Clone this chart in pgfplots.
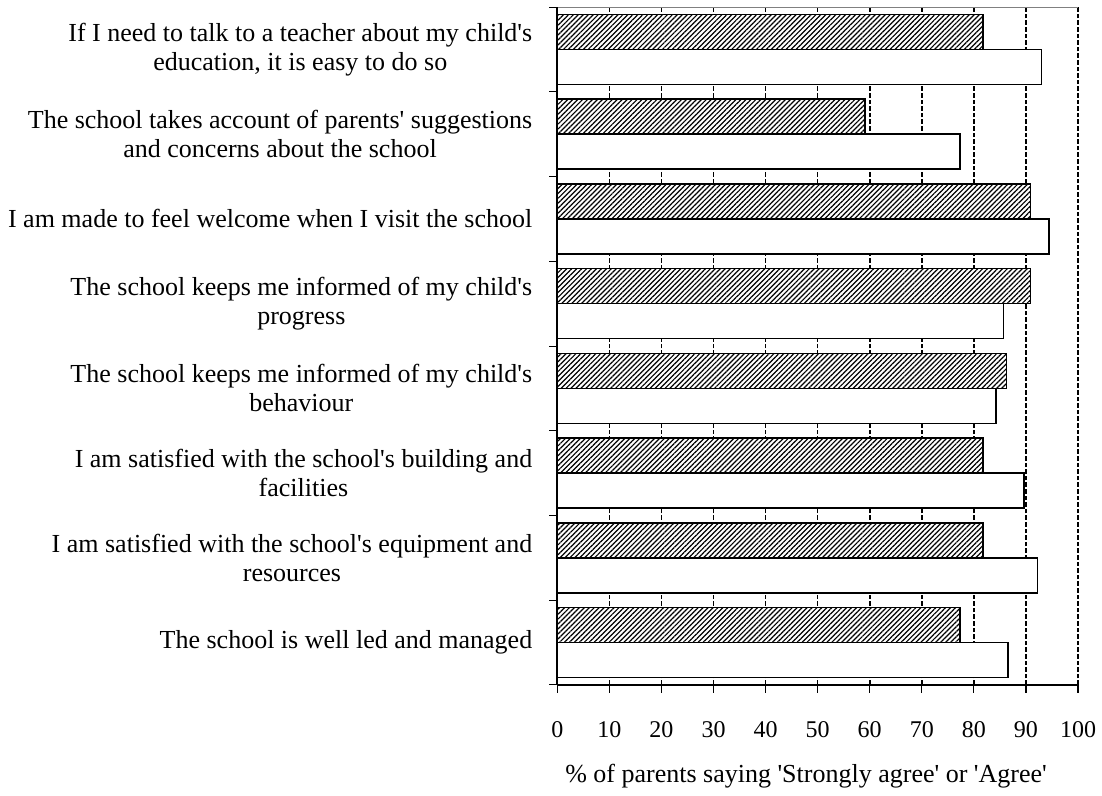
\documentclass[border=0pt]{standalone}
\usepackage{fontspec}
\setmainfont{Liberation Serif}[Ligatures=TeXOff]
\usepackage{pgfplots}
\pgfplotsset{compat=1.18}
\usetikzlibrary{patterns.meta}

% group 1 (top) at y=7 ... group 8 (bottom) at y=0
\pgfplotstableread{
y  val
7  81.8
6  59.1
5  90.9
4  90.9
3  86.3
2  81.8
1  81.8
0  77.3
}\hatched
\pgfplotstableread{
y  val
7  93.0
6  77.3
5  94.4
4  85.7
3  84.3
2  89.6
1  92.2
0  86.6
}\plain

\begin{document}
\begin{tikzpicture}
\useasboundingbox (-278.65pt,-55.5pt) rectangle (272.35pt,342.5pt);
\begin{axis}[
    at={(0,0)}, anchor=south west,
    scale only axis, clip=false,
    width=260.35pt, height=339pt,
    xmin=0, xmax=100, ymin=-0.5, ymax=7.5,
    axis x line*=bottom, axis y line*=left,
    axis line style={black, line width=0.6pt},
    xtick={0,10,...,100},
    ytick={-0.5,0.5,...,7.5},
    yticklabels={},
    extra y ticks={0,...,7},
    extra y tick labels={
        {The school is well led and managed},
        {I am satisfied with the school's equipment and\\resources},
        {I am satisfied with the school's building and\\facilities},
        {The school keeps me informed of my child's\\behaviour},
        {The school keeps me informed of my child's\\progress},
        {I am made to feel welcome when I visit the school},
        {The school takes account of parents' suggestions\\and concerns about the school},
        {If I need to talk to a teacher about my child's\\education, it is easy to do so}
    },
    extra y tick style={tick style={draw=none}},
    tick align=outside,
    major tick length=4pt,
    xtick style={black, line width=0.6pt},
    ytick style={black, line width=0.5pt},
    xmajorgrids,
    major grid style={black, line width=0.8pt, dash pattern=on 2.3pt off 1pt},
    /pgf/number format/assume math mode=true,
    xticklabel style={font=\fontsize{12}{14}\selectfont, yshift=-10.5pt},
    yticklabel style={font=\fontsize{13}{14.5}\selectfont,
        align=center, anchor=east, xshift=-5pt},
    xlabel={\% of parents saying 'Strongly agree' or 'Agree'},
    xlabel style={at={(rel axis cs:0.5,0)}, anchor=center, yshift=-45.5pt, xshift=-5.8pt,
        font=\fontsize{13}{14.5}\selectfont},
    xbar, bar width=17.5pt,
]
\addplot[draw=black, line width=0.8pt, fill=white,
    postaction={pattern={Lines[angle=45,distance=1.75pt,line width=0.6pt]}},
    bar shift=8.75pt] table[x=val, y=y] {\hatched};
\addplot[draw=black, line width=0.8pt, fill=white, bar shift=-8.75pt]
    table[x=val, y=y] {\plain};
\draw[gray, line width=0.5pt] (rel axis cs:0,1) -- (rel axis cs:1,1);
\draw[black, line width=0.8pt] (rel axis cs:0,0) -- (rel axis cs:0,1);
\end{axis}
\end{tikzpicture}
\end{document}
